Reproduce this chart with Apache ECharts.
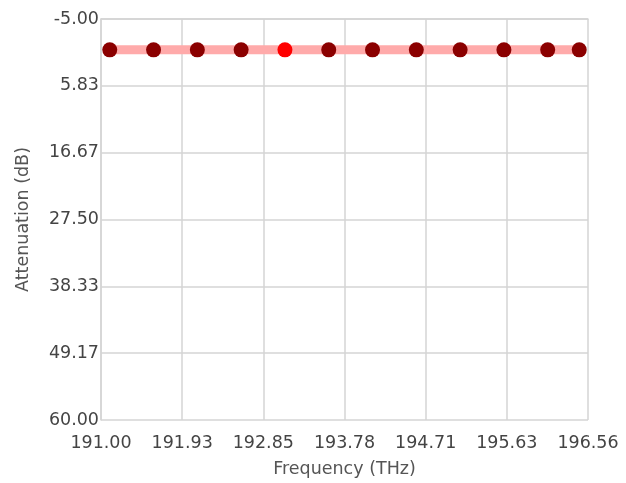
<!DOCTYPE html>
<html>
<head>
<meta charset="utf-8">
<script src="https://cdn.jsdelivr.net/npm/echarts@6/dist/echarts.min.js"></script>
<style>
html,body{margin:0;padding:0;background:#fff;}
#chart{width:626px;height:483px;}
</style>
</head>
<body>
<div id="chart"></div>
<script>
// ---- data ----
const frequencies = [191.1, 191.6, 192.1, 192.6, 193.1, 193.6, 194.1, 194.6, 195.1, 195.6, 196.1, 196.46];
const attenuation = [0, 0, 0, 0, 0, 0, 0, 0, 0, 0, 0, 0];
const highlightedIndex = 4;
const xTickLabels = ['191.00', '191.93', '192.85', '193.78', '194.71', '195.63', '196.56'];
const yTickLabels = ['-5.00', '5.83', '16.67', '27.50', '38.33', '49.17', '60.00'];
const xMin = 191.00, xMax = 196.56;
const yMin = -5.00, yMax = 60.00;
const steps = 6;

// map real units onto an axis of 0..steps so the ticks fall on the labelled values
const xStep = (xMax - xMin) / steps;
const yStep = (yMax - yMin) / steps;
const seriesData = frequencies.map((f, i) => {
  const item = { value: [(f - xMin) / xStep, (attenuation[i] - yMin) / yStep] };
  if (i === highlightedIndex) item.itemStyle = { color: '#ff0000' };
  return item;
});

const FONT = 'DejaVu Sans';
const FS = 17.5;
const chart = echarts.init(document.getElementById('chart'));
chart.setOption({
  animation: false,
  grid: { left: 101, right: 38, top: 19, bottom: 63, containLabel: false },
  xAxis: {
    type: 'value', min: 0, max: steps, interval: 1,
    name: 'Frequency (THz)', nameLocation: 'middle', nameGap: 40,
    nameTextStyle: { color: '#555', fontSize: FS, fontFamily: FONT },
    axisLine: { show: true, lineStyle: { color: '#d4d4d4', width: 1.5 } },
    axisTick: { show: false },
    splitLine: { show: true, lineStyle: { color: '#d4d4d4', width: 1.5 } },
    axisLabel: { color: '#444', fontSize: FS, fontFamily: FONT, margin: 14,
      formatter: v => xTickLabels[Math.round(v)] }
  },
  yAxis: {
    type: 'value', min: 0, max: steps, interval: 1, inverse: true,
    name: 'Attenuation (dB)', nameLocation: 'middle', nameGap: 69,
    nameTextStyle: { color: '#555', fontSize: FS, fontFamily: FONT },
    axisLine: { show: true, lineStyle: { color: '#d4d4d4', width: 1.5 } },
    axisTick: { show: false },
    splitLine: { show: true, lineStyle: { color: '#d4d4d4', width: 1.5 } },
    axisLabel: { color: '#444', fontSize: FS, fontFamily: FONT, margin: 2,
      formatter: v => yTickLabels[Math.round(v)] }
  },
  series: [{
    type: 'line',
    data: seriesData,
    symbol: 'circle',
    symbolSize: 15,
    showAllSymbol: true,
    lineStyle: { color: '#ffaaaa', width: 9 },
    itemStyle: { color: '#8b0000' },
    emphasis: { disabled: true }
  }]
});
</script>
</body>
</html>
